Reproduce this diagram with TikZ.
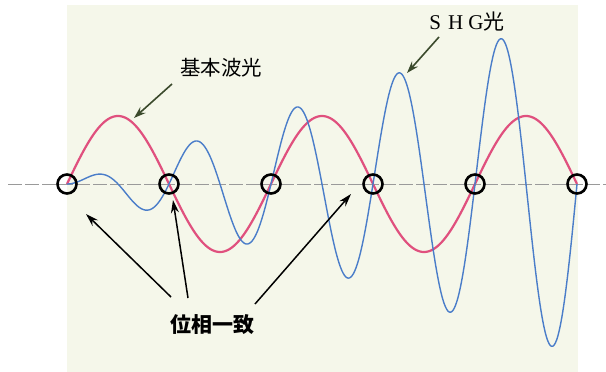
\documentclass[tikz,border=0pt]{standalone}
\usepackage{fontspec}
\setmainfont{Liberation Serif}
\newfontfamily\cjk{Noto Sans CJK JP}
\usetikzlibrary{arrows.meta}
\definecolor{panel}{HTML}{F5F7EA}
\definecolor{fund}{HTML}{E0507E}
\definecolor{shg}{HTML}{4A7DC9}
\definecolor{olive}{HTML}{3B4A2C}
\definecolor{axisgray}{HTML}{9A9A9A}
\tikzset{
  fundwave/.style={fund, line width=2.2pt},
  shgwave/.style={shg, line width=1.4pt},
  ring/.style={circle, draw=black, line width=2.6pt, minimum size=19pt, inner sep=0pt},
  blackarrow/.style={black, line width=1.5pt, -{Stealth[length=13pt,width=8pt]}},
  olivearrow/.style={olive, line width=1.6pt, -{Stealth[length=12pt,width=8pt]}},
}
\begin{document}
\begin{tikzpicture}[x={(1pt,0pt)}, y={(0pt,-1pt)}]
\useasboundingbox (0,0) rectangle (606,372);
\fill[white] (0,0) rectangle (606,372);
\fill[panel] (67,5) rectangle (578,372);
% axis
\draw[axisgray, line width=1pt, dash pattern=on 14pt off 3pt] (8,184) -- (606,184);
% fundamental wave
\draw[fundwave, line join=round] plot[domain=67:577, samples=300, smooth] (\x, {184 - 68*sin(360/204*(\x-67))});
% SHG wave
\draw[shgwave, line join=round] plot[domain=67:577, samples=400, smooth] (\x, {184 - 0.335*(\x-67)*sin(360/102*(\x-67))});
% phase-match rings
\foreach \i/\xx in {1/67,2/169,3/271,4/373,5/475,6/577}{
  \node[ring] (c\i) at (\xx,184) {};
}
% labels
\node[font=\cjk\fontsize{20.5pt}{20.5pt}\selectfont] (lab1) at (221,68) {基本波光};
\node[font=\fontsize{21pt}{21pt}\selectfont, anchor=center] (lab2) at (467,22) {S\hspace{7pt}H\hspace{5pt}G{\cjk 光}};
\node[font=\cjk\bfseries\fontsize{21pt}{21pt}\selectfont] (lab3) at (212,325) {位相一致};
% arrow ends
\coordinate (t1) at (171,297);
\coordinate (h1) at (86,214);
\coordinate (t2) at (188,298);
\coordinate (h2) at (173,200);
\coordinate (t3) at (255,304);
\coordinate (h3) at (351,194);
\coordinate (t4) at (172,84);
\coordinate (h4) at (134,118);
\coordinate (t5) at (439,37);
\coordinate (h5) at (407,73);
\draw[blackarrow] (t1) -- (h1);
\draw[blackarrow] (t2) -- (h2);
\draw[blackarrow] (t3) -- (h3);
\draw[olivearrow] (t4) -- (h4);
\draw[olivearrow] (t5) -- (h5);
\end{tikzpicture}
\end{document}
